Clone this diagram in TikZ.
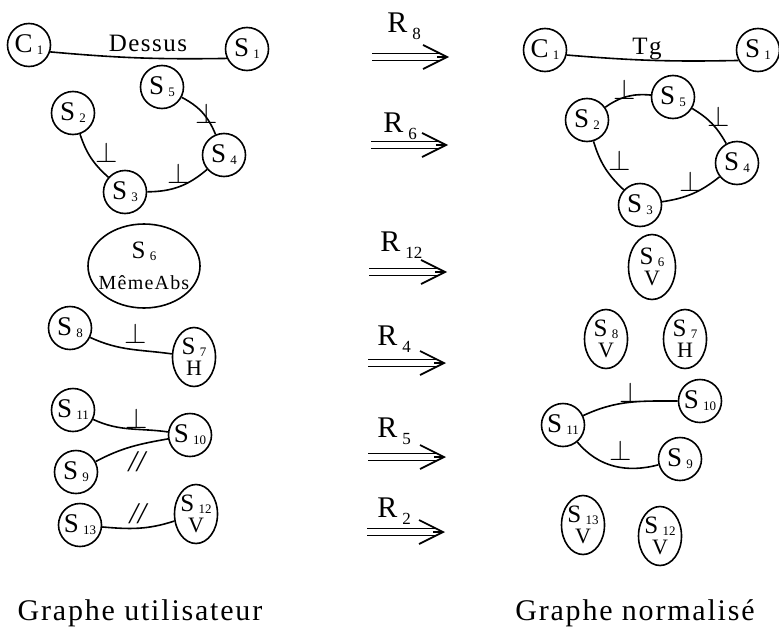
\documentclass[tikz,border=0pt]{standalone}
\usepackage{fontspec}
\setmainfont{Liberation Serif}
\newfontfamily\spaced[LetterSpace=6]{Liberation Serif}
\usepackage{tikz}
\usetikzlibrary{positioning, arrows.meta, shapes.geometric}

\newcommand\sbs[1]{\hspace{2.2pt}\raisebox{-1pt}{\fontsize{6.5}{6.5}\selectfont #1}}
\newcommand\rsb[1]{\hspace{2.5pt}\raisebox{-3.5pt}{\fontsize{8.5}{8.5}\selectfont #1}}
\newcommand\twoline[2]{#1\\[-2pt]{\fontsize{11}{11}\selectfont #2}}

\begin{document}
\begin{tikzpicture}[x=0.5pt, y=0.5pt,
  vtx/.style={circle, draw, line width=0.8pt, minimum size=21.5pt, inner sep=0pt, font=\fontsize{13.5}{13.5}\selectfont},
  ell/.style={ellipse, draw, line width=0.8pt, minimum width=21.5pt, minimum height=29.5pt, inner sep=-1pt, align=center, font=\fontsize{12.5}{12.5}\selectfont},
  link/.style={line width=0.8pt},
  lbl/.style={inner sep=0pt, font=\fontsize{15}{15}\selectfont},
  rel/.style={anchor=base, inner sep=0pt, font=\spaced\fontsize{12.5}{12.5}\selectfont},
  rule/.style={double, double distance=2.6pt, line width=0.85pt},
  head/.style={line width=0.85pt, -{Straight Barb[length=12pt, width=12pt]}},
  rname/.style={anchor=base west, inner sep=0pt, font=\fontsize{15}{15}\selectfont},
  caption/.style={anchor=base, inner sep=0pt, font=\spaced\fontsize{15}{15}\selectfont}
]
  \useasboundingbox (0,0) rectangle (779,628);

  % graphe utilisateur
  \node[vtx] (uc1) at (29,583) {C\sbs{1}};
  \node[vtx] (us1) at (247,579) {S\sbs{1}};
  \node[vtx] (us5) at (162,541) {S\sbs{5}};
  \node[vtx] (us2) at (73,515) {S\sbs{2}};
  \node[vtx] (us4) at (224,473) {S\sbs{4}};
  \node[vtx] (us3) at (125,436) {S\sbs{3}};
  \node[ell, minimum width=56pt, minimum height=42pt, inner xsep=-3pt] (us6) at (144,362)
    {S\sbs{6}\\[3pt]{\spaced\fontsize{10}{10}\selectfont MêmeAbs}};
  \node[vtx] (us8) at (70,300) {S\sbs{8}};
  \node[ell] (us7) at (194,271) {\twoline{S\sbs{7}}{H}};
  \node[vtx] (us11) at (73,218) {S\sbs{11}};
  \node[vtx] (us10) at (190,193) {S\sbs{10}};
  \node[vtx] (us9) at (76,156) {S\sbs{9}};
  \node[vtx] (us13) at (80,103) {S\sbs{13}};
  \node[ell] (us12) at (196,114) {\twoline{S\sbs{12}}{V}};

  \draw[link] (uc1.-18) to[bend right=3] (us1.205);
  \draw[link] (us5) to[bend left=20] (us4);
  \draw[link] (us2) to[bend right=15] (us3);
  \draw[link] (us3) to[bend right=20] (us4);
  \draw[link] (us8) to[out=-25, in=172] (us7);
  \draw[link] (us11) to[out=-25, in=172] (us10);
  \draw[link] (us9) to[out=28, in=190] (us10);
  \draw[link] (us13) to[out=-5, in=198] (us12);

  \node[rel] (dessus) at (148,576) {Dessus};
  \node[lbl] (p54) at (207,515) {$\perp$};
  \node[lbl] (p23) at (107,476) {$\perp$};
  \node[lbl] (p34) at (179,455) {$\perp$};
  \node[lbl] (p87) at (136,295) {$\perp$};
  \node[lbl] (p1110) at (137,210) {$\perp$};
  \node[lbl] (q910) at (138,166) {\textit{//}};
  \node[lbl] (q1312) at (139,114) {\textit{//}};

  % regles
  \coordinate (a8) at (372,571);  \coordinate (b8) at (449,571);
  \coordinate (a6) at (371,483);  \coordinate (b6) at (448,483);
  \coordinate (a12) at (369,356); \coordinate (b12) at (447,356);
  \coordinate (a4) at (368,265);  \coordinate (b4) at (446,265);
  \coordinate (a5) at (368,171);  \coordinate (b5) at (446,171);
  \coordinate (a2) at (367,96);   \coordinate (b2) at (445,96);
  \draw[rule] (a8) -- ([xshift=-4pt]b8);   \draw[head] ([xshift=-6pt]b8) -- (b8);
  \draw[rule] (a6) -- ([xshift=-4pt]b6);   \draw[head] ([xshift=-6pt]b6) -- (b6);
  \draw[rule] (a12) -- ([xshift=-4pt]b12); \draw[head] ([xshift=-6pt]b12) -- (b12);
  \draw[rule] (a4) -- ([xshift=-4pt]b4);   \draw[head] ([xshift=-6pt]b4) -- (b4);
  \draw[rule] (a5) -- ([xshift=-4pt]b5);   \draw[head] ([xshift=-6pt]b5) -- (b5);
  \draw[rule] (a2) -- ([xshift=-4pt]b2);   \draw[head] ([xshift=-6pt]b2) -- (b2);
  \node[rname] (r8) at (387,595) {R\rsb{8}};
  \node[rname] (r6) at (383,496) {R\rsb{6}};
  \node[rname] (r12) at (380,377) {R\rsb{12}};
  \node[rname] (r4) at (377,283) {R\rsb{4}};
  \node[rname] (r5) at (377,191) {R\rsb{5}};
  \node[rname] (r2) at (377,111) {R\rsb{2}};

  % graphe normalise
  \node[vtx] (nc1) at (545,578) {C\sbs{1}};
  \node[vtx] (ns1) at (758,578) {S\sbs{1}};
  \node[vtx] (ns5) at (673,531) {S\sbs{5}};
  \node[vtx] (ns2) at (587,508) {S\sbs{2}};
  \node[vtx] (ns4) at (737,465) {S\sbs{4}};
  \node[vtx] (ns3) at (640,423) {S\sbs{3}};
  \node[ell, minimum width=23.5pt, minimum height=32.5pt] (ns6) at (652,361) {\twoline{S\sbs{6}}{V}};
  \node[ell] (ns8) at (606,289) {\twoline{S\sbs{8}}{V}};
  \node[ell] (ns7) at (685,289) {\twoline{S\sbs{7}}{H}};
  \node[vtx] (ns10) at (700,227) {S\sbs{10}};
  \node[vtx] (ns11) at (563,203) {S\sbs{11}};
  \node[vtx] (ns9) at (680,169) {S\sbs{9}};
  \node[ell] (ns13) at (583,103) {\twoline{S\sbs{13}}{V}};
  \node[ell] (ns12) at (660,92) {\twoline{S\sbs{12}}{V}};

  \draw[link] (nc1.-13) to[bend right=3] (ns1.208);
  \draw[link] (ns2) to[bend left=20] (ns5);
  \draw[link] (ns5) to[bend left=15] (ns4);
  \draw[link] (ns2) to[bend right=15] (ns3);
  \draw[link] (ns3) to[bend right=15] (ns4);
  \draw[link] (ns11) to[out=25, in=180] (ns10);
  \draw[link] (ns11) to[out=-50, in=195] (ns9);

  \node[rel] (tg) at (647,574) {Tg};
  \node[lbl] (n25) at (625,539) {$\perp$};
  \node[lbl] (n54) at (719,512) {$\perp$};
  \node[lbl] (n23) at (620,468) {$\perp$};
  \node[lbl] (n34) at (691,447) {$\perp$};
  \node[lbl] (n1110) at (631,236) {$\perp$};
  \node[lbl] (n119) at (621,178) {$\perp$};

  \node[caption] (cap1) at (140,8) {Graphe utilisateur};
  \node[caption] (cap2) at (635,8) {Graphe normalisé};
\end{tikzpicture}
\end{document}
